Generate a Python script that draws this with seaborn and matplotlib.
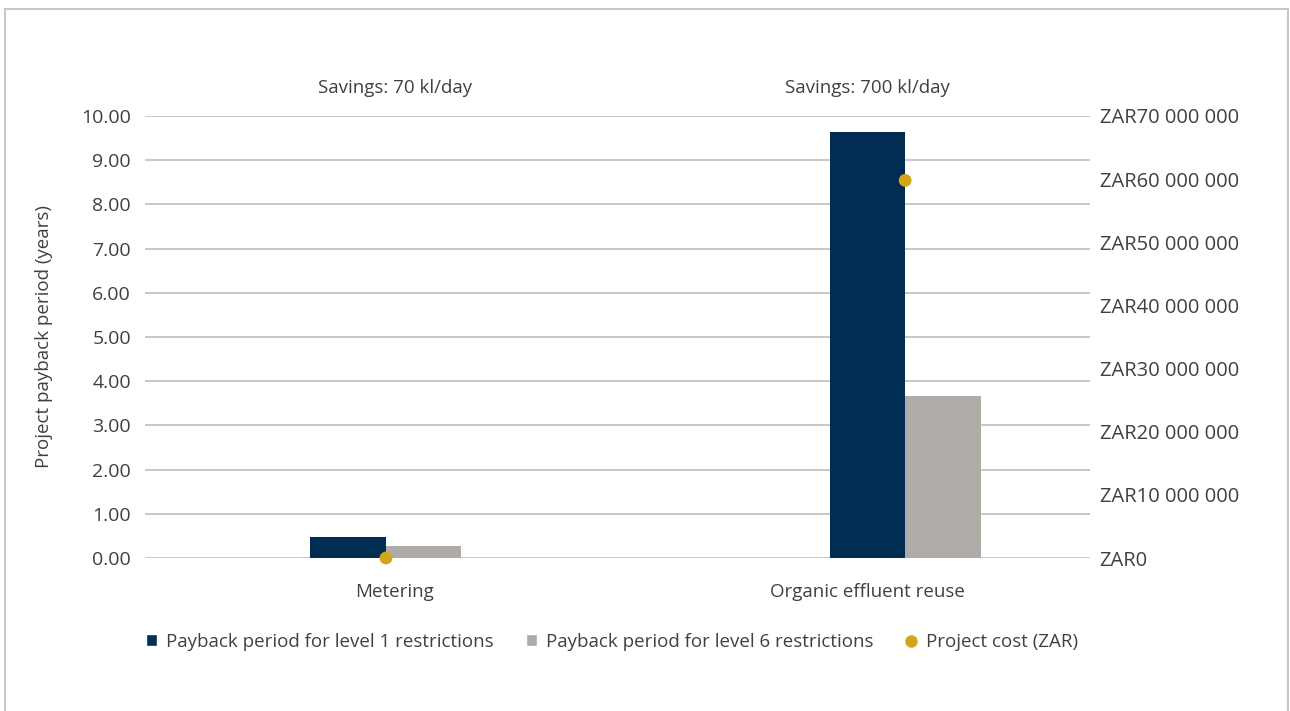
import numpy as np
import pandas as pd
import seaborn as sns
import matplotlib.pyplot as plt
from matplotlib.lines import Line2D
from matplotlib.patches import Patch, Rectangle

# data
projects = ["Metering", "Organic effluent reuse"]
savings = ["Savings: 70 kl/day", "Savings: 700 kl/day"]
series = ["Payback period for level 1 restrictions", "Payback period for level 6 restrictions"]
level1_years = [0.48, 9.64]
level6_years = [0.27, 3.67]
project_cost = [0, 59800000]
cost_label = "Project cost (ZAR)"
left_ticks = np.arange(0, 11, 1)
right_ticks = np.arange(0, 70000001, 10000000)

NAVY = "#022d52"
GREY = "#afaca7"
GOLD = "#d4a518"
TEXT = "#404040"
GRID = "#bfbfbf"

sns.set_theme(style="white")
plt.rcParams["font.family"] = ["Open Sans", "DejaVu Sans"]
plt.rcParams["text.color"] = TEXT

df = pd.DataFrame({
    "project": projects * 2,
    "series": [series[0]] * 2 + [series[1]] * 2,
    "years": level1_years + level6_years,
})

fig = plt.figure(figsize=(12.9, 7.11), dpi=100)
ax = fig.add_axes([145 / 1290, 1 - 558 / 711, 945 / 1290, 442 / 711])

sns.barplot(data=df, x="project", y="years", hue="series",
            palette=[NAVY, GREY], width=0.291, gap=0, saturation=1,
            linewidth=0, legend=False, ax=ax)

ax2 = ax.twinx()
sns.scatterplot(x=np.arange(len(projects)), y=project_cost, color=GOLD,
                s=85, edgecolor="none", ax=ax2, zorder=5, clip_on=False)

ax.set_ylim(0, 10)
ax2.set_ylim(0, 70000000)
ax.set_xlim(-0.464, 1.356)

ax.set_yticks(left_ticks)
ax.set_yticklabels([f"{v:.2f}" for v in left_ticks], fontsize=14, color=TEXT)
ax2.set_yticks(right_ticks)
ax2.set_yticklabels([f"ZAR{v:,.0f}".replace(",", " ") for v in right_ticks],
                    fontsize=14.5, color=TEXT)

# category labels sit a bit off the bar groups in the reference
label_x = [0.017, 0.927]
ax.set_xticks(label_x)
ax.set_xticklabels(projects, fontsize=13.5, color=TEXT)
ax.tick_params(axis="x", length=0, pad=18)
ax.tick_params(axis="y", length=0, pad=10)
ax2.tick_params(axis="y", length=0, pad=7)
ax.set_xlabel("")
ax.set_ylabel("Project payback period (years)", fontsize=13.5, color=TEXT, labelpad=20)
ax2.set_ylabel("")

ax.yaxis.grid(True, color=GRID, linewidth=1.2)
ax.set_axisbelow(True)
for a in (ax, ax2):
    for s in a.spines.values():
        s.set_visible(False)

for x, txt in zip(label_x, savings):
    ax.text(x, 1.064, txt, transform=ax.get_xaxis_transform(),
            ha="center", va="center", fontsize=13.5, color=TEXT)

handles = [
    Patch(facecolor=NAVY, label=series[0]),
    Patch(facecolor=GREY, label=series[1]),
    Line2D([], [], marker="o", linestyle="none", markersize=9,
           markerfacecolor=GOLD, markeredgecolor="none", label=cost_label),
]
fig.legend(handles=handles, loc="center", bbox_to_anchor=(612 / 1290, 1 - 642 / 711),
           ncol=3, frameon=False, fontsize=13.5, handlelength=0.6, handleheight=0.6,
           handletextpad=0.5, columnspacing=1.7)

fig.patches.append(Rectangle((5 / 1290, -0.02), 1283 / 1290, 1.02 - 9 / 711,
                             transform=fig.transFigure, fill=False,
                             edgecolor="#c8c8c8", linewidth=1.5))

fig.savefig("out.png", dpi=100)
